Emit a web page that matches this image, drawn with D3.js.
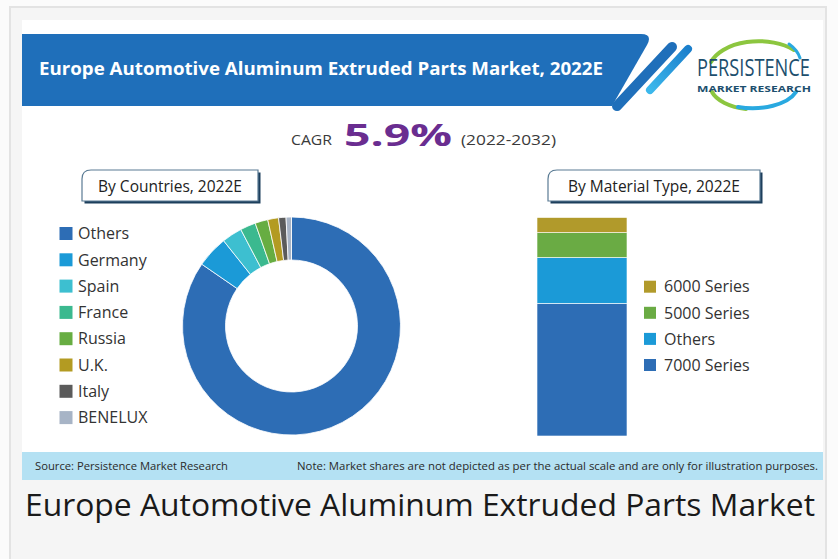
<!DOCTYPE html>
<html>
<head>
<meta charset="utf-8">
<script src="https://cdn.jsdelivr.net/npm/d3@7"></script>
<style>
  html, body { margin: 0; padding: 0; background: #fbfbfb; }
  svg { display: block; }
  text { font-family: "Open Sans", "DejaVu Sans", sans-serif; }
</style>
</head>
<body>
<svg id="chart" width="838" height="559"></svg>
<script>
// ---------- data ----------
const countries = ["Others", "Germany", "Spain", "France", "Russia", "U.K.", "Italy", "BENELUX"];
const countryShares = [84.6, 4.7, 3.0, 2.3, 1.9, 1.6, 1.1, 0.8];
const countryColors = ["#2d6db5", "#1b9ad7", "#3dbfd0", "#3bb98f", "#67ad42", "#b39b22", "#5b5b5b", "#a7b4c6"];

const materials = ["7000 Series", "Others", "5000 Series", "6000 Series"]; // bottom to top
const materialShares = [60.7, 21.0, 11.4, 6.9];
const materialColors = ["#2d6db5", "#1b9ad7", "#6aab44", "#b19a2b"];

const titleText = "Europe Automotive Aluminum Extruded Parts Market, 2022E";
const cagrValue = "5.9%";
const cagrPeriod = "(2022-2032)";
const leftBoxLabel = "By Countries, 2022E";
const rightBoxLabel = "By Material Type, 2022E";
const sourceText = "Source: Persistence Market Research";
const noteText = "Note: Market shares are not depicted as per the actual scale and are only for illustration purposes.";
const captionText = "Europe Automotive Aluminum Extruded Parts Market";
const logoMain = "PERSISTENCE";
const logoSub = "MARKET RESEARCH";

// ---------- frame ----------
const svg = d3.select("#chart");
svg.append("rect").attr("x", 10).attr("y", 7).attr("width", 816).attr("height", 570)
  .attr("fill", "#f5f5f5").attr("stroke", "#e3e3e3").attr("stroke-width", 2);
svg.append("rect").attr("x", 22).attr("y", 20).attr("width", 801).attr("height", 460).attr("fill", "#ffffff");

// ---------- banner ----------
svg.append("path")
  .attr("d", "M22,34 L641,34 Q653,34 647,45 L612,106 L22,106 Z")
  .attr("fill", "#1f6fba");
const defs = svg.append("defs");
const g1 = defs.append("linearGradient").attr("id", "stripe2").attr("x1", "0").attr("y1", "1").attr("x2", "1").attr("y2", "0");
g1.append("stop").attr("offset", "0").attr("stop-color", "#3cb8ec");
g1.append("stop").attr("offset", "1").attr("stop-color", "#1b7fcc");
svg.append("line").attr("x1", 672).attr("y1", 47).attr("x2", 617).attr("y2", 106)
  .attr("stroke", "#1f6fba").attr("stroke-width", 10).attr("stroke-linecap", "round");
svg.append("line").attr("x1", 688).attr("y1", 49).attr("x2", 650).attr("y2", 90)
  .attr("stroke", "url(#stripe2)").attr("stroke-width", 8).attr("stroke-linecap", "round");
svg.append("text").attr("x", 39).attr("y", 75)
  .attr("fill", "#ffffff").attr("font-weight", 700).attr("font-size", 17)
  .attr("textLength", 564).attr("lengthAdjust", "spacingAndGlyphs")
  .text(titleText);

// ---------- logo ----------
const logo = svg.append("g");
logo.append("path").attr("d", "M711,62 A50,30 0 0,1 794,50")
  .attr("fill", "none").attr("stroke", "#8cc63f").attr("stroke-width", 4).attr("stroke-linecap", "round");
logo.append("path").attr("d", "M789,44 A50,30 0 0,1 800,58")
  .attr("fill", "none").attr("stroke", "#29a9e0").attr("stroke-width", 3).attr("stroke-linecap", "round");
logo.append("path").attr("d", "M712,92 A46,24 0 0,0 746,109")
  .attr("fill", "none").attr("stroke", "#8cc63f").attr("stroke-width", 4).attr("stroke-linecap", "round");
logo.append("path").attr("d", "M738,107 A46,24 0 0,0 796,92")
  .attr("fill", "none").attr("stroke", "#29a9e0").attr("stroke-width", 4).attr("stroke-linecap", "round");

function fitText(x, y, width, size, weight, family, str) {
  const t = logo.append("text").attr("x", 0).attr("y", 0)
    .attr("fill", "#1d4f6e").attr("font-size", size).attr("font-weight", weight)
    .attr("font-family", family).text(str);
  const natural = t.node().getComputedTextLength();
  t.attr("transform", `translate(${x},${y}) scale(${width / natural},1)`);
}
fitText(697, 76, 113, 24, 400, "'Liberation Sans Narrow', 'DejaVu Sans Condensed', sans-serif", logoMain);
fitText(697, 91.5, 114, 8, 700, "'DejaVu Sans', sans-serif", logoSub);

// ---------- CAGR ----------
svg.append("text").attr("x", 291).attr("y", 144.5).attr("fill", "#3a3a3a").attr("font-size", 15)
  .attr("textLength", 41).attr("lengthAdjust", "spacingAndGlyphs").text("CAGR");
svg.append("text").attr("x", 344).attr("y", 146).attr("fill", "#6a2d90").attr("font-size", 31).attr("font-weight", 700)
  .attr("textLength", 108).attr("lengthAdjust", "spacingAndGlyphs").text(cagrValue);
svg.append("text").attr("x", 461).attr("y", 144.5).attr("fill", "#3a3a3a").attr("font-size", 14)
  .attr("textLength", 95).attr("lengthAdjust", "spacingAndGlyphs").text(cagrPeriod);

// ---------- label boxes ----------
function labelBox(x0, y0, w, h, label) {
  const r = 9;
  const p = `M${x0},${y0 + h} L${x0},${y0 + r} Q${x0},${y0} ${x0 + r},${y0} L${x0 + w},${y0} L${x0 + w},${y0 + h} Z`;
  svg.append("path").attr("d", p).attr("transform", "translate(2.5,2.5)").attr("fill", "#1d3f5c");
  svg.append("path").attr("d", p).attr("fill", "#ffffff").attr("stroke", "#5a7b94").attr("stroke-width", 1.2);
  svg.append("text").attr("x", x0 + w / 2).attr("y", y0 + h / 2 + 6).attr("text-anchor", "middle")
    .attr("fill", "#222").attr("font-size", 15.5).text(label);
}
labelBox(82, 170, 176, 31, leftBoxLabel);
labelBox(548, 170, 212, 31, rightBoxLabel);

// ---------- donut ----------
const cx = 291.5, cy = 326;
const pie = d3.pie().sort(null).value(d => d.v).startAngle(0).endAngle(2 * Math.PI);
const arc = d3.arc().innerRadius(66).outerRadius(109);
const donutData = countries.map((c, i) => ({ c, v: countryShares[i], col: countryColors[i] }));
svg.append("g").attr("transform", `translate(${cx},${cy})`)
  .selectAll("path").data(pie(donutData)).join("path")
  .attr("d", arc).attr("fill", d => d.data.col)
  .attr("stroke", "#ffffff").attr("stroke-width", 0.8);

// left legend
const legL = svg.append("g");
countries.forEach((c, i) => {
  const y = 233.5 + i * 26.3;
  legL.append("rect").attr("x", 59.5).attr("y", y - 6.5).attr("width", 13).attr("height", 13).attr("fill", countryColors[i]);
  legL.append("text").attr("x", 78).attr("y", y).attr("dy", "0.36em").attr("fill", "#333").attr("font-size", 16).text(c);
});

// ---------- stacked bar ----------
const yScale = d3.scaleLinear().domain([0, 100]).range([436, 217.5]);
const stackData = [Object.fromEntries(materials.map((m, i) => [m, materialShares[i]]))];
const series = d3.stack().keys(materials)(stackData);
svg.append("g").selectAll("rect").data(series).join("rect")
  .attr("x", 537).attr("width", 90)
  .attr("y", d => yScale(d[0][1]))
  .attr("height", d => yScale(d[0][0]) - yScale(d[0][1]))
  .attr("fill", (d, i) => materialColors[i])
  .attr("stroke", "#ffffff").attr("stroke-width", 0.6);

// right legend (top to bottom)
const legR = svg.append("g");
const legOrder = materials.slice().reverse();
legOrder.forEach((m, i) => {
  const y = 286.7 + i * 26.1;
  const col = materialColors[materials.indexOf(m)];
  legR.append("rect").attr("x", 644).attr("y", y - 6).attr("width", 12).attr("height", 12).attr("fill", col);
  legR.append("text").attr("x", 664).attr("y", y).attr("dy", "0.36em").attr("fill", "#333").attr("font-size", 16).text(m);
});

// ---------- footer ----------
svg.append("rect").attr("x", 22).attr("y", 452).attr("width", 801).attr("height", 28).attr("fill", "#b4e1f3");
svg.append("text").attr("x", 35).attr("y", 469.5).attr("fill", "#2a2a2a").attr("font-size", 11)
  .attr("textLength", 193).attr("lengthAdjust", "spacingAndGlyphs").text(sourceText);
svg.append("text").attr("x", 297).attr("y", 469.5).attr("fill", "#2a2a2a").attr("font-size", 11)
  .attr("textLength", 521).attr("lengthAdjust", "spacingAndGlyphs").text(noteText);

// ---------- caption ----------
svg.append("text").attr("x", 25).attr("y", 516).attr("fill", "#1a1a1a").attr("font-size", 31)
  .attr("textLength", 790).attr("lengthAdjust", "spacingAndGlyphs").text(captionText);
</script>
</body>
</html>
